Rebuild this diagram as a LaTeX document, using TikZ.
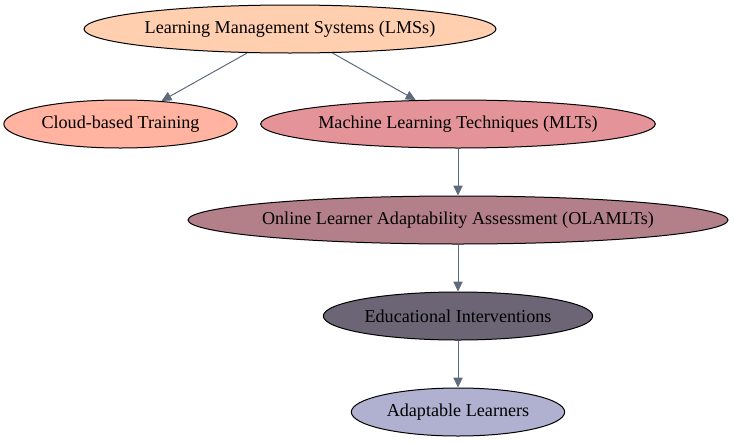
\documentclass[tikz,border=0pt]{standalone}
\usepackage{fontspec}
\setmainfont{Liberation Serif}
\usetikzlibrary{shapes.geometric,arrows.meta}

\definecolor{lmscol}{HTML}{FFCFB0}
\definecolor{cloudcol}{HTML}{FFB3A0}
\definecolor{mltcol}{HTML}{E49498}
\definecolor{olacol}{HTML}{B3808A}
\definecolor{educol}{HTML}{6B6575}
\definecolor{adaptcol}{HTML}{B0B0D0}
\definecolor{edgecol}{HTML}{5E6B7D}

\newcommand{\lbl}[1]{\makebox[0pt]{#1}}

\begin{document}
\begin{tikzpicture}
          [x=0.75pt,y=-0.75pt,every node/.style={draw,line width=0.75pt,shape=ellipse,inner sep=0pt,minimum height=36pt,font=\fontsize{13.6}{16}\selectfont},
           edge/.style={draw=edgecol,line width=0.75pt,-{Triangle[length=7.5pt,width=7pt]}}]

          \useasboundingbox (0,0) rectangle (734,443);

          \node[fill=lmscol,minimum width=309pt] (lms) at (290, 29) {\lbl{Learning Management Systems (LMSs)}};
          \node[fill=cloudcol,minimum width=175pt] (cloud) at (120.5, 124) {\lbl{Cloud-based Training}};
          \node[fill=mltcol,minimum width=296pt] (mlt) at (458, 124) {\lbl{Machine Learning Techniques (MLTs)}};
          \node[fill=olacol,minimum width=405pt] (ola) at (458, 220) {\lbl{Online Learner Adaptability Assessment (OLAMLTs)}};
          \node[fill=educol,minimum width=202pt] (edu) at (458, 316) {\lbl{Educational Interventions}};
          \node[fill=adaptcol,minimum width=160pt] (adapt) at (458, 412) {\lbl{Adaptable Learners}};

          \draw[edge] (lms) -- (cloud);
          \draw[edge] (lms) -- (mlt);
          \draw[edge] (mlt) -- (ola);
          \draw[edge] (ola) -- (edu);
          \draw[edge] (edu) -- (adapt);
        \end{tikzpicture}
\end{document}
